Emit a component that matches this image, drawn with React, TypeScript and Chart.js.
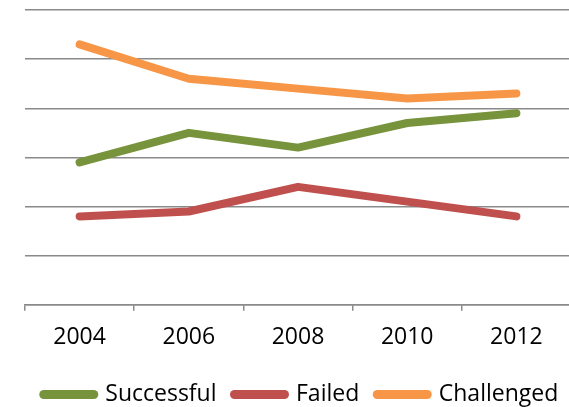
import React, { useEffect, useRef } from "react";
import { Chart, registerables } from "chart.js";

Chart.register(...registerables);

const years = ["2004", "2006", "2008", "2010", "2012"];
const successful = [29, 35, 32, 37, 39];
const failed = [18, 19, 24, 21, 18];
const challenged = [53, 46, 44, 42, 43];

const FONT = "'Open Sans', 'Liberation Sans', sans-serif";

export default function App() {
  const ref = useRef<HTMLCanvasElement | null>(null);

  useEffect(() => {
    if (!ref.current) return;
    const baseGen = (Chart.defaults.plugins.legend.labels as any).generateLabels;
    const chart = new Chart(ref.current, {
      type: "line",
      data: {
        labels: years,
        datasets: [
          { label: "Successful", data: successful, borderColor: "#77933C", backgroundColor: "#77933C" },
          { label: "Failed", data: failed, borderColor: "#C0504D", backgroundColor: "#C0504D" },
          { label: "Challenged", data: challenged, borderColor: "#F79646", backgroundColor: "#F79646" },
        ],
      },
      options: {
        responsive: false,
        animation: false,
        devicePixelRatio: 1,
        layout: { padding: { top: 10, left: 0, right: 0, bottom: 0 } },
        elements: {
          line: { borderWidth: 8, borderCapStyle: "round", borderJoinStyle: "round", tension: 0 },
          point: { radius: 0, hoverRadius: 0 },
        },
        scales: {
          x: {
            offset: true,
            grid: { offset: true, drawOnChartArea: false, drawTicks: true, tickLength: 6, color: "#8a8a8a", lineWidth: 1.5 },
            border: { display: true, color: "#8a8a8a", width: 1.5 },
            ticks: { color: "#000", font: { family: FONT, size: 23, lineHeight: 1.05 }, padding: 15, maxRotation: 0 },
          },
          y: {
            min: 0,
            max: 60,
            ticks: { display: false, stepSize: 10 },
            grid: { drawTicks: false, color: "#8a8a8a", lineWidth: 1.5 },
            border: { display: false },
            afterFit: (s: any) => {
              s.width = 25;
            },
          },
          yRight: {
            position: "right",
            min: 0,
            max: 60,
            ticks: { display: false },
            grid: { drawTicks: false, drawOnChartArea: false },
            border: { display: false },
            afterFit: (s: any) => {
              s.width = 31;
            },
          },
        },
        plugins: {
          tooltip: { enabled: false },
          legend: {
            position: "bottom",
            labels: {
              usePointStyle: true,
              pointStyle: "line",
              pointStyleWidth: 50,
              color: "#000",
              font: { family: FONT, size: 23 },
              padding: 18,
              generateLabels: (c: any) =>
                baseGen(c).map((it: any) => ({ ...it, lineWidth: 9, lineCap: "round" })),
            },
          },
        },
      },
    });
    return () => chart.destroy();
  }, []);

  return (
    <div style={{ position: "fixed", left: 0, top: 0, width: 569, height: 407, overflow: "hidden", background: "#fff" }}>
      <canvas ref={ref} width={602} height={416} style={{ width: 602, height: 416, display: "block" }} />
    </div>
  );
}
